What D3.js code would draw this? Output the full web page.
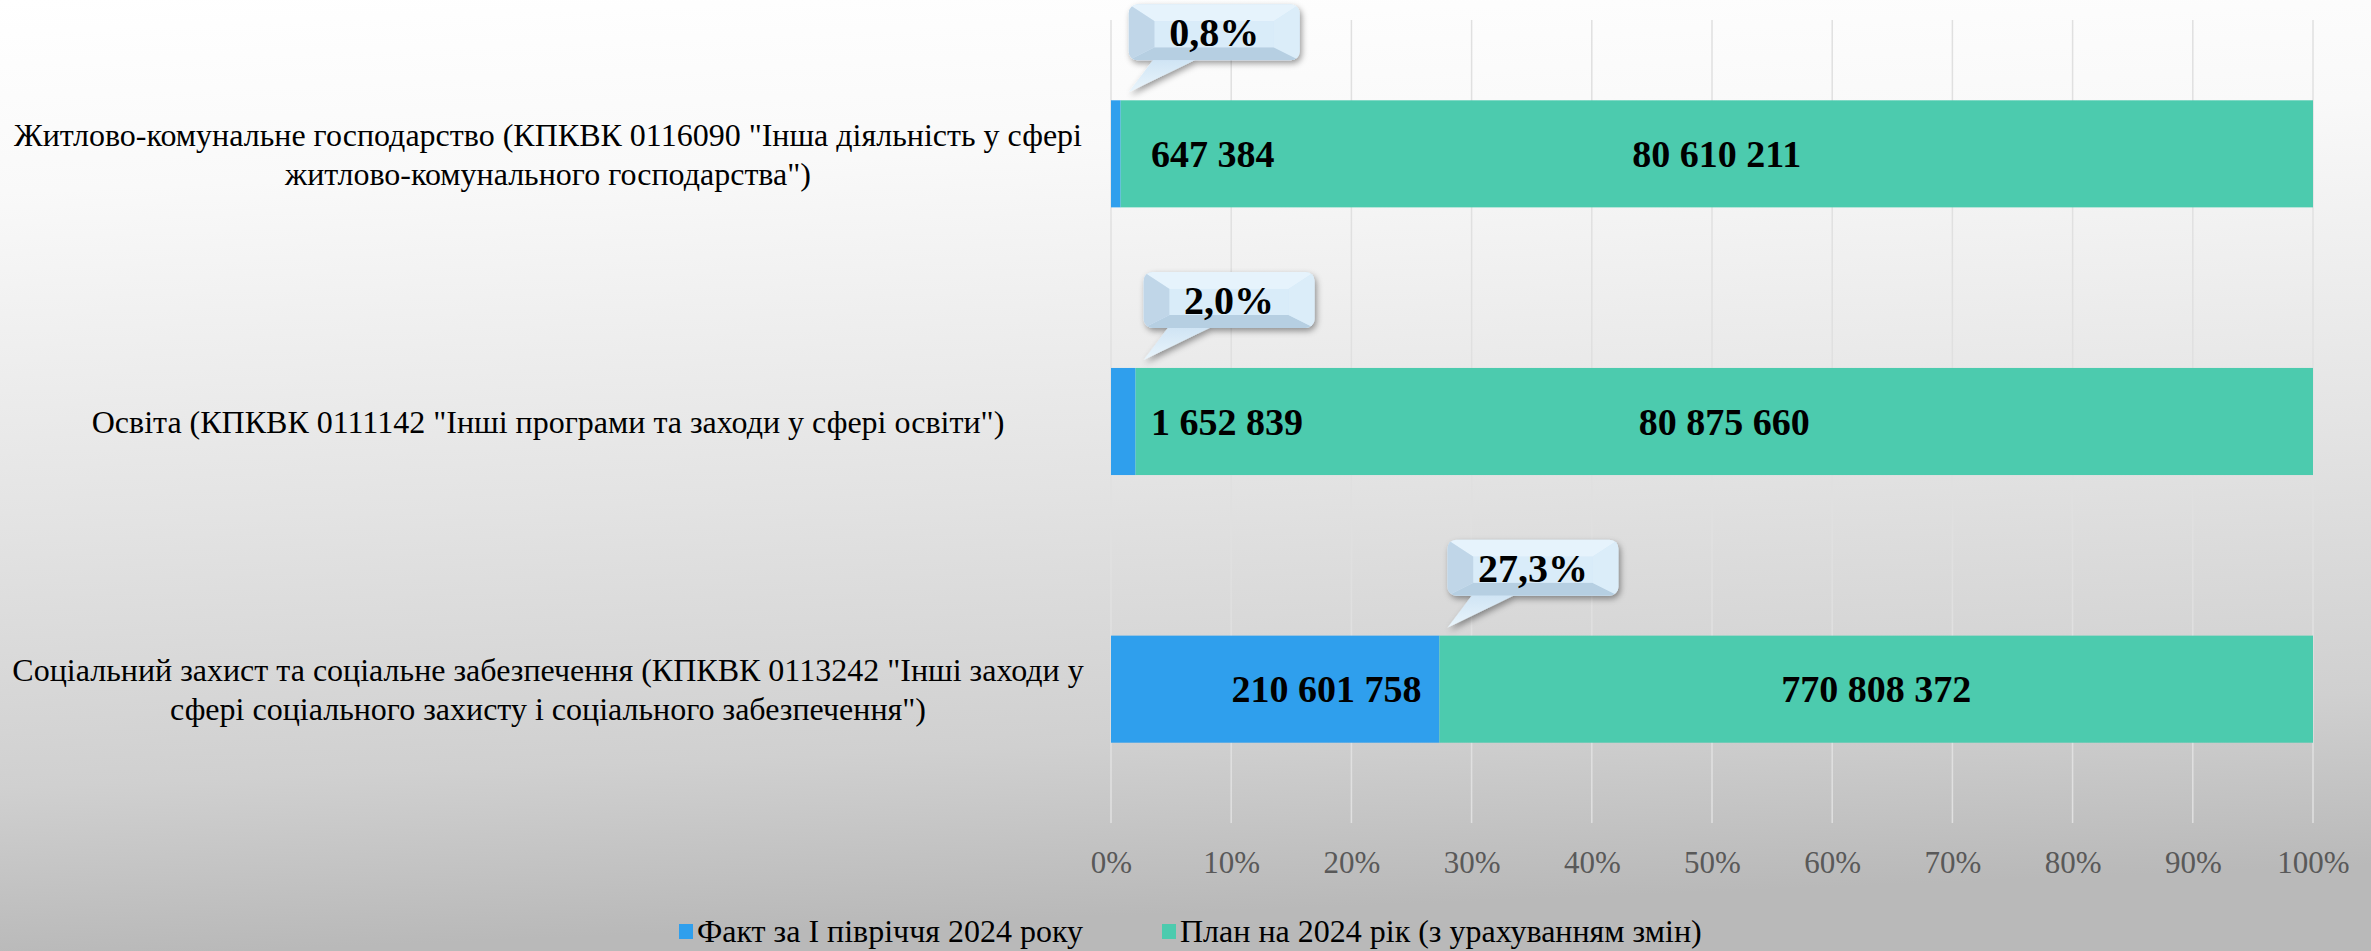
<!DOCTYPE html>
<html>
<head>
<meta charset="utf-8">
<script src="https://cdn.jsdelivr.net/npm/d3@7"></script>
<style>
body { margin: 0; }
svg { display: block; font-family: "Liberation Serif", "Times New Roman", serif; }
</style>
</head>
<body>
<svg></svg>
<script>
var categories = [
    "Житлово-комунальне господарство (КПКВК 0116090 \"Інша діяльність у сфері житлово-комунального господарства\")",
    "Освіта (КПКВК 0111142 \"Інші програми та заходи у сфері освіти\")",
    "Соціальний захист та соціальне забезпечення (КПКВК 0113242 \"Інші заходи у сфері соціального захисту і соціального забезпечення\")"
]
var factValues = [647384, 1652839, 210601758]
var planValues = [80610211, 80875660, 770808372]
var seriesNames = ["Факт за І півріччя 2024 року", "План на 2024 рік (з урахуванням змін)"]
var tickValues = [0, 0.1, 0.2, 0.3, 0.4, 0.5, 0.6, 0.7, 0.8, 0.9, 1]

var blue = "#2f9fed", green = "#4ccbae"

var W = 2371, H = 951
var margin = { top: 20, right: 58, bottom: 128, left: 1111 },
    width = W - margin.left - margin.right,
    height = H - margin.top - margin.bottom

var ua = d3.formatLocale({ decimal: ",", thousands: " ", grouping: [3], currency: ["", " грн"] })
var fmtNum = ua.format(",d")
var fmtPct = ua.format(".1%")

var root = d3.select("svg")
    .attr("width", W)
    .attr("height", H)

var defs = root.append("defs")

var bg = defs.append("linearGradient")
    .attr("id", "bg")
    .attr("x1", 0).attr("y1", 0).attr("x2", 0.1).attr("y2", 1)
bg.append("stop").attr("offset", 0).attr("stop-color", "#ffffff")
bg.append("stop").attr("offset", 0.2).attr("stop-color", "#f9f9f9")
bg.append("stop").attr("offset", 0.55).attr("stop-color", "#e3e3e3")
bg.append("stop").attr("offset", 0.82).attr("stop-color", "#d0d0d0")
bg.append("stop").attr("offset", 1).attr("stop-color", "#b9b9b9")

var tailGrad = defs.append("linearGradient")
    .attr("id", "tailGrad")
    .attr("x1", 0).attr("y1", 0).attr("x2", 0).attr("y2", 1)
tailGrad.append("stop").attr("offset", 0).attr("stop-color", "#cfe4f4")
tailGrad.append("stop").attr("offset", 1).attr("stop-color", "#eaf5fc")

var shadow = defs.append("filter")
    .attr("id", "shadow")
    .attr("x", "-20%").attr("y", "-20%").attr("width", "140%").attr("height", "160%")
shadow.append("feDropShadow")
    .attr("dx", 2).attr("dy", 3)
    .attr("stdDeviation", 3)
    .attr("flood-color", "#000")
    .attr("flood-opacity", 0.4)

root.append("rect")
    .attr("width", W)
    .attr("height", H)
    .attr("fill", "url(#bg)")

var svg = root.append("g")
    .attr("transform", "translate(" + margin.left + "," + margin.top + ")")

var xScale = d3.scaleLinear()
    .domain([0, 1])
    .range([0, width])

var yScale = d3.scaleBand()
    .domain(categories)
    .range([0, height])
    .paddingInner(0.6)
    .paddingOuter(0.3)

// gridlines
svg.selectAll(".grid")
    .data(tickValues)
    .enter()
    .append("line")
    .attr("class", "grid")
    .attr("x1", d => xScale(d))
    .attr("x2", d => xScale(d))
    .attr("y1", 0)
    .attr("y2", height)
    .attr("stroke", "#e0e0e0")
    .attr("stroke-width", 1.5)

var xAxis = svg.append("g")
    .attr("transform", "translate(0," + height + ")")
    .call(d3.axisBottom(xScale)
        .tickValues(tickValues)
        .tickFormat(d3.format(".0%"))
        .tickSize(0)
        .tickPadding(28))
xAxis.select(".domain").remove()
xAxis.selectAll("text")
    .attr("fill", "#595959")
    .style("font-size", "31px")
    .style("font-family", "'Liberation Serif', serif")

var rows = categories.map((c, i) => ({
    cat: c,
    fact: factValues[i],
    plan: planValues[i],
    share: factValues[i] / planValues[i]
}))

// category labels, wrapped and centred
var labelCenter = 548 - margin.left
rows.forEach(r => {
    var t = svg.append("text")
        .attr("text-anchor", "middle")
        .attr("font-size", 32)
        .attr("fill", "#000")
    var lines = wrap(t, r.cat, 1095)
    var cy = yScale(r.cat) + yScale.bandwidth() / 2
    var lh = 39
    t.text(null)
    lines.forEach((ln, k) => {
        t.append("tspan")
            .attr("x", labelCenter)
            .attr("y", cy + (k - (lines.length - 1) / 2) * lh)
            .attr("dy", "0.35em")
            .text(ln)
    })
})

function wrap(textSel, str, maxW) {
    var words = str.split(" ")
    var lines = []
    var cur = ""
    words.forEach(w => {
        var test = cur ? cur + " " + w : w
        textSel.text(test)
        if (textSel.node().getComputedTextLength() > maxW && cur) {
            lines.push(cur)
            cur = w
        } else {
            cur = test
        }
    })
    lines.push(cur)
    return lines
}

// bars
svg.selectAll(".fact")
    .data(rows)
    .enter()
    .append("rect")
    .attr("class", "fact")
    .attr("x", xScale(0))
    .attr("y", d => yScale(d.cat))
    .attr("width", d => xScale(d.share) - xScale(0))
    .attr("height", yScale.bandwidth())
    .attr("fill", blue)

svg.selectAll(".plan")
    .data(rows)
    .enter()
    .append("rect")
    .attr("class", "plan")
    .attr("x", d => xScale(d.share))
    .attr("y", d => yScale(d.cat))
    .attr("width", d => xScale(1) - xScale(d.share))
    .attr("height", yScale.bandwidth())
    .attr("fill", green)

// value labels
svg.selectAll(".factLabel")
    .data(rows)
    .enter()
    .append("text")
    .attr("class", "factLabel")
    .attr("x", d => xScale(d.share) > 250 ? xScale(d.share) - 18 : 40)
    .attr("text-anchor", d => xScale(d.share) > 250 ? "end" : "start")
    .attr("y", d => yScale(d.cat) + yScale.bandwidth() / 2)
    .attr("dy", "0.35em")
    .attr("font-size", 38)
    .attr("font-weight", "bold")
    .text(d => fmtNum(d.fact))

svg.selectAll(".planLabel")
    .data(rows)
    .enter()
    .append("text")
    .attr("class", "planLabel")
    .attr("x", d => (xScale(d.share) + xScale(1)) / 2)
    .attr("text-anchor", "middle")
    .attr("y", d => yScale(d.cat) + yScale.bandwidth() / 2)
    .attr("dy", "0.35em")
    .attr("font-size", 38)
    .attr("font-weight", "bold")
    .text(d => fmtNum(d.plan))

// callouts with the share
var boxW = 171, boxH = 56, boxL = 0, boxT = -88
var ix = 26, iyT = 17, iyB = 13

var callout = svg.selectAll(".callout")
    .data(rows)
    .enter()
    .append("g")
    .attr("class", "callout")
    .attr("transform", d => "translate(" + (xScale(d.share) + 8) + "," + (yScale(d.cat) - 8) + ")")

var body = callout.append("g").attr("filter", "url(#shadow)")
body.append("path")
    .attr("d", "M" + (boxL + 25) + "," + (boxT + boxH - 1) + "L" + (boxL + 68) + "," + (boxT + boxH - 1) + "L0,0Z")
    .attr("fill", "url(#tailGrad)")
body.append("rect")
    .attr("x", boxL).attr("y", boxT)
    .attr("width", boxW).attr("height", boxH)
    .attr("rx", 9)
    .attr("fill", "#d4e8f7")

var L = boxL, T = boxT, R = boxL + boxW, B = boxT + boxH
var facets = [
    { pts: [[L, T], [R, T], [R - ix, T + iyT], [L + ix, T + iyT]], c: "#e6f3fc" },
    { pts: [[L, B], [R, B], [R - ix, B - iyB], [L + ix, B - iyB]], c: "#b6cfe2" },
    { pts: [[L, T], [L + ix, T + iyT], [L + ix, B - iyB], [L, B]], c: "#c0d6e8" },
    { pts: [[R, T], [R - ix, T + iyT], [R - ix, B - iyB], [R, B]], c: "#dbedf9" }
]
defs.append("clipPath")
    .attr("id", "boxClip")
    .append("rect")
    .attr("x", boxL).attr("y", boxT)
    .attr("width", boxW).attr("height", boxH)
    .attr("rx", 9)

var bevel = callout.append("g").attr("clip-path", "url(#boxClip)")
facets.forEach(f => {
    bevel.append("polygon")
        .attr("points", f.pts.map(p => p.join(",")).join(" "))
        .attr("fill", f.c)
})
bevel.append("rect")
    .attr("x", L + ix).attr("y", T + iyT)
    .attr("width", boxW - 2 * ix).attr("height", boxH - iyT - iyB)
    .attr("fill", "#d9ecf9")

callout.append("text")
    .attr("x", boxL + boxW / 2)
    .attr("y", boxT + boxH / 2)
    .attr("dy", "0.35em")
    .attr("text-anchor", "middle")
    .attr("font-size", 40)
    .attr("font-weight", "bold")
    .text(d => fmtPct(d.share))

// legend
var legend = root.append("g")
    .attr("transform", "translate(0,942)")
var legendX = [679, 1162]
seriesNames.forEach((name, i) => {
    legend.append("rect")
        .attr("x", legendX[i])
        .attr("y", -18)
        .attr("width", 14)
        .attr("height", 15)
        .attr("fill", i === 0 ? blue : green)
    legend.append("text")
        .attr("x", legendX[i] + 18)
        .attr("y", 0)
        .attr("font-size", 32)
        .attr("fill", "#000")
        .text(name)
})
</script>
</body>
</html>
